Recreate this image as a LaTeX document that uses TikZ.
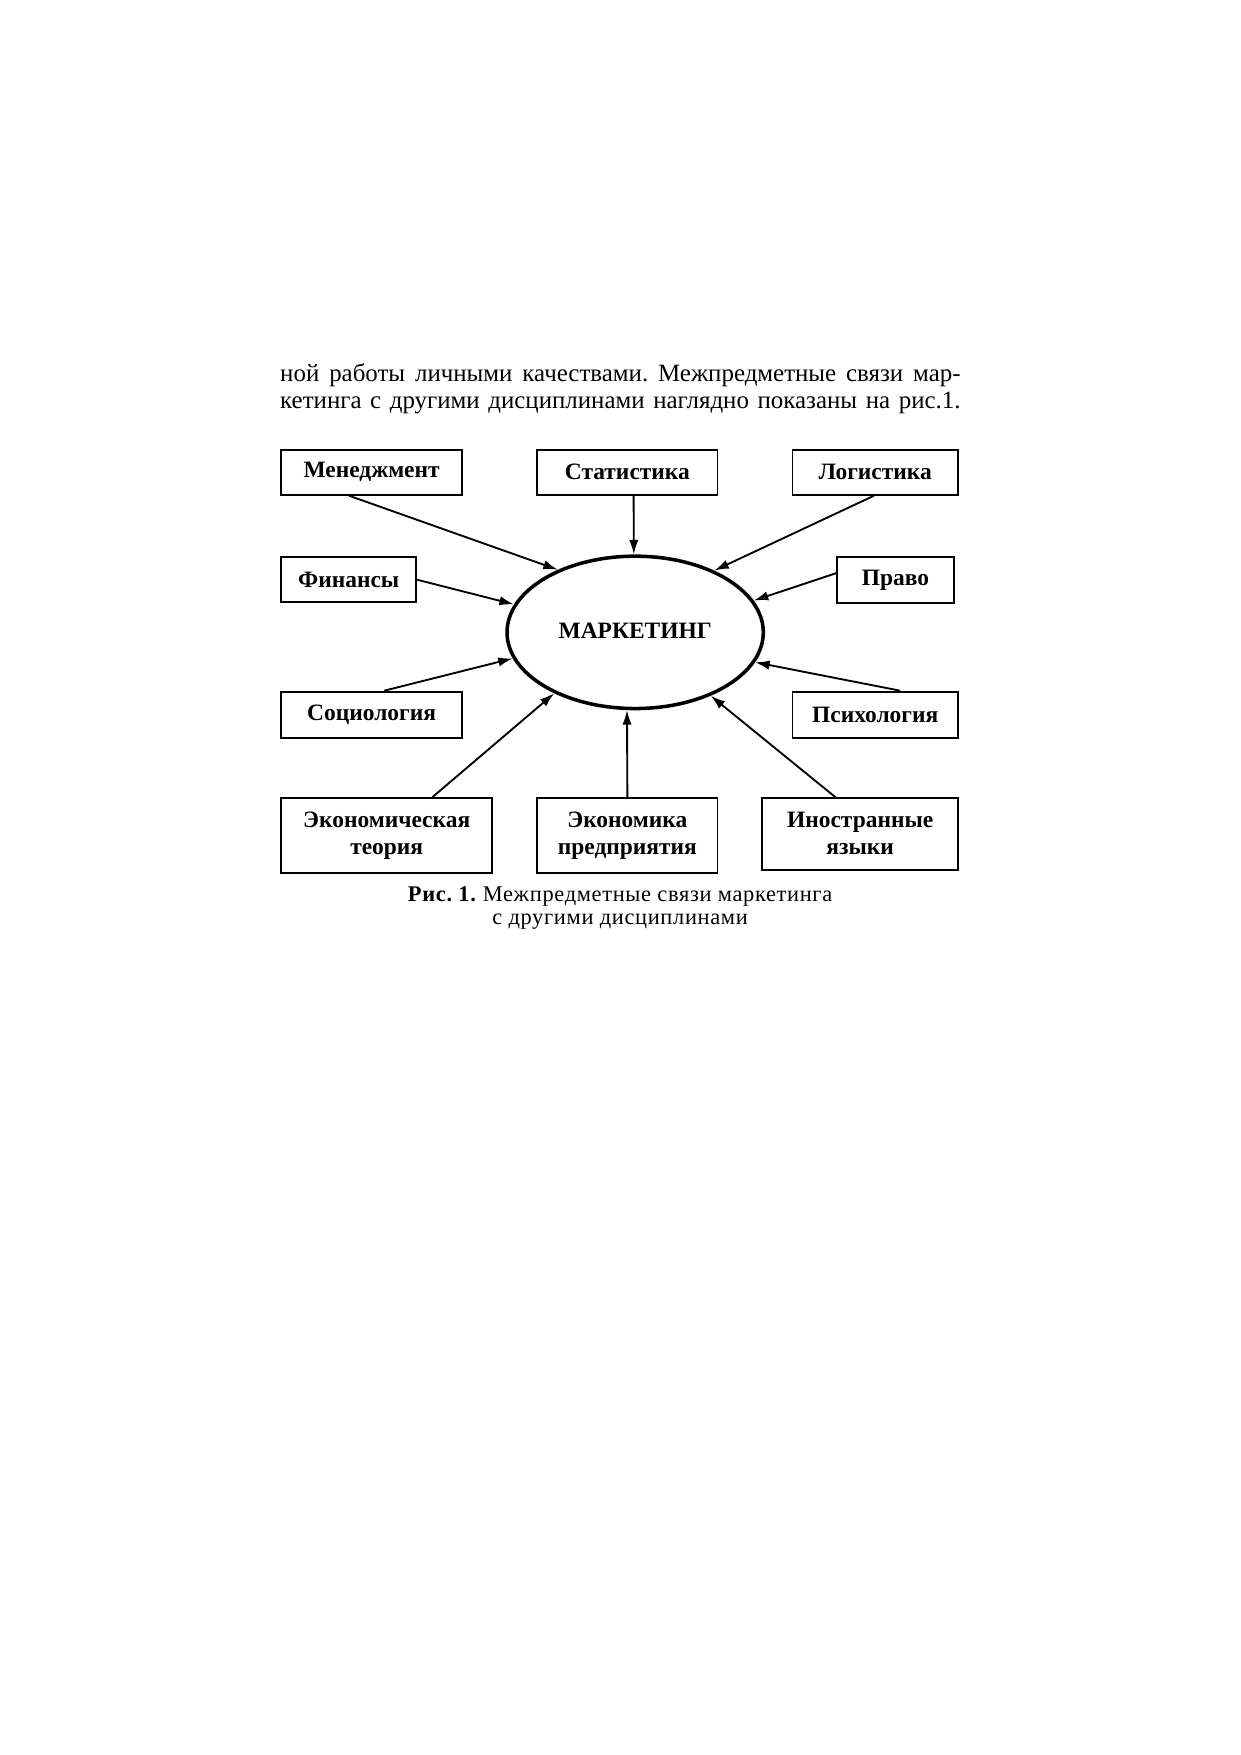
\documentclass[tikz,border=0pt]{standalone}
\usepackage{fontspec}
\setmainfont{Liberation Serif}
\usetikzlibrary{arrows.meta,positioning,shapes}
\frenchspacing

\begin{document}
\begin{tikzpicture}[scale=1,
    box/.style={rectangle,draw,line width=0.9pt,inner sep=0pt,align=center,
      font=\fontsize{11.3}{13}\selectfont\bfseries},
    link/.style={line width=0.9pt,-{Latex[length=7pt,width=4.5pt]}},
    textline/.style={inner sep=0pt,font=\fontsize{12}{14}\selectfont}]
			\useasboundingbox (0,0) rectangle (21,29.717);

			% text above the figure
			\node[textline,anchor=base west] (line1) at (4.738,23.254) {\makebox[11.52cm][s]{ной работы личными качествами. Межпредметные связи мар-}};
			\node[textline,anchor=base west] (line2) at (4.738,22.800) {\makebox[11.52cm][s]{кетинга с другими дисциплинами наглядно показаны на рис.1.}};

			\node[ellipse,draw,line width=1.7pt,minimum width=4.34cm,minimum height=2.58cm,inner sep=0pt,
				font=\fontsize{11.3}{13}\selectfont\bfseries] (mark) at (10.755,19.009) {\raisebox{2pt}{МАРКЕТИНГ}};

			\node[box,minimum width=3.07cm,minimum height=0.76cm] (men) at (6.292,21.719) {Менеджмент};
			\node[box,minimum width=3.05cm,minimum height=0.76cm] (stat) at (10.623,21.719) {Статистика};
			\node[box,minimum width=2.80cm,minimum height=0.76cm] (log) at (14.820,21.719) {Логистика};
			\node[box,minimum width=2.29cm,minimum height=0.76cm] (fin) at (5.904,19.900) {Финансы};
			\node[box,minimum width=1.97cm,minimum height=0.78cm] (prav) at (15.162,19.890) {Право};
			\node[box,minimum width=3.07cm,minimum height=0.78cm] (soc) at (6.292,17.616) {Социология};
			\node[box,minimum width=2.80cm,minimum height=0.78cm] (psy) at (14.820,17.616) {Психология};
			\node[box,minimum width=3.58cm,minimum height=1.27cm] (et) at (6.548,15.569) {Экономическая\\теория};
			\node[box,minimum width=3.05cm,minimum height=1.27cm] (ep) at (10.623,15.569) {Экономика\\предприятия};
			\node[box,minimum width=3.32cm,minimum height=1.21cm] (iya) at (14.565,15.597) {Иностранные\\языки};

			\draw[link] (men.226) -- (mark.141);
			\draw[link] (stat.285) -- (mark.91);
			\draw[link] (log.267) -- (mark.38);
			\draw[link] (fin.east) -- (mark.167);
			\draw[link] (prav.173) -- (mark.15);
			\draw[link] (soc.62) -- (mark.192);
			\draw[link] (psy.44) -- (mark.346);
			\draw[link] (et.40) -- (mark.217);
			\draw[link] (ep.north) -- (mark.264);
			\draw[link] (iya.124) -- (mark.320);

			% caption
			\node[inner sep=0pt,anchor=base,font=\fontsize{10.8}{12}\selectfont\addfontfeature{LetterSpace=3}] (cap1) at (10.5,14.46) {\textbf{Рис. 1.} Межпредметные связи маркетинга};
			\node[inner sep=0pt,anchor=base,font=\fontsize{10.8}{12}\selectfont\addfontfeature{LetterSpace=3}] (cap2) at (10.5,14.07) {с другими дисциплинами};
		\end{tikzpicture}
\end{document}
